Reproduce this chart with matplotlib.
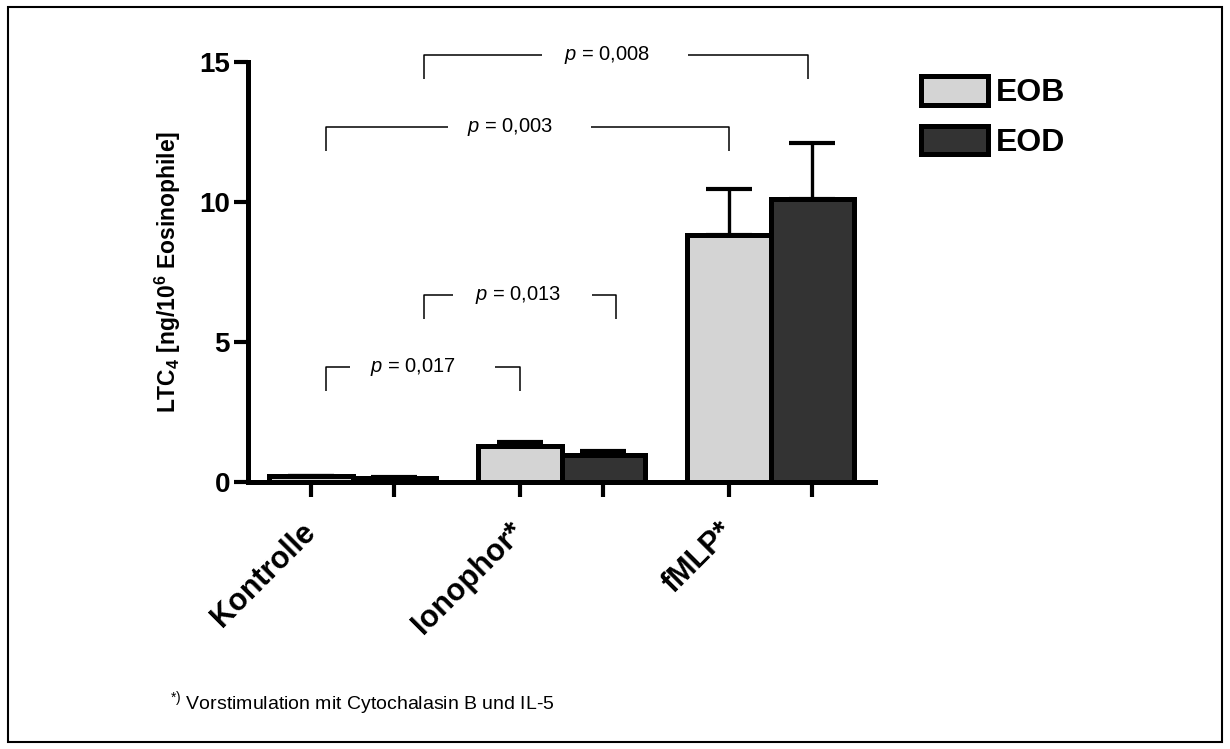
import matplotlib.pyplot as plt
import numpy as np
from matplotlib.patches import Rectangle

plt.rcParams["font.family"] = "Liberation Sans"
plt.rcParams["mathtext.fontset"] = "custom"
plt.rcParams["mathtext.rm"] = "Liberation Sans"
plt.rcParams["mathtext.it"] = "Liberation Sans:italic"
plt.rcParams["mathtext.bf"] = "Liberation Sans:bold"

groups = ["Kontrolle", "Ionophor*", "fMLP*"]
eob_values = [0.2, 1.3, 8.82]
eob_errors = [0.03, 0.12, 1.63]
eod_values = [0.15, 0.95, 10.1]
eod_errors = [0.03, 0.17, 2.0]

# significance brackets: left, right, height, gap start, gap end, text x, label
brackets = [
    (-0.125, 0.80, 4.1, -0.01, 0.684, 0.29, "0,017"),
    (0.34, 1.26, 6.68, 0.483, 1.148, 0.79, "0,013"),
    (-0.125, 1.80, 12.68, 0.455, 1.139, 0.756, "0,003"),
    (0.34, 2.18, 15.25, 0.909, 1.603, 1.22, "0,008"),
]
BRACKET_DROP = 0.86

EOB_COLOR = "#d4d4d4"
EOD_COLOR = "#333333"

fig = plt.figure(figsize=(12.3, 7.49), dpi=100)
ax = fig.add_axes([248 / 1230, 1 - 482 / 749, 627 / 1230, 420 / 749])

x = np.arange(len(groups))
w = 0.4
bar_kw = dict(width=w, edgecolor="black", linewidth=3.6, zorder=3)
err_kw = dict(ecolor="black", elinewidth=2.4, capsize=16.5, capthick=3, zorder=2)

ax.bar(x - w / 2, eob_values, color=EOB_COLOR, label="EOB", **bar_kw)
ax.bar(x + w / 2, eod_values, color=EOD_COLOR, label="EOD", **bar_kw)
ax.errorbar(x - w / 2, eob_values, yerr=[np.zeros(3), eob_errors], fmt="none", **err_kw)
ax.errorbar(x + w / 2, eod_values, yerr=[np.zeros(3), eod_errors], fmt="none", **err_kw)

for left, right, yb, g0, g1, tx, lab in brackets:
    lkw = dict(color="black", linewidth=1.1, clip_on=False, solid_capstyle="butt")
    ax.plot([left, left, g0], [yb - BRACKET_DROP, yb, yb], **lkw)
    ax.plot([g1, right, right], [yb, yb, yb - BRACKET_DROP], **lkw)
    ax.text(tx, yb, f"$p$ = {lab}", ha="center", va="center", fontsize=14.5)

ax.set_xlim(-0.5, 2.5)
ax.set_ylim(0, 15)
ax.set_yticks([0, 5, 10, 15])
ax.set_yticklabels(["0", "5", "10", "15"], fontsize=20, fontweight="bold")

tick_pos = np.sort(np.concatenate([x - w / 2, x + w / 2]))
ax.set_xticks(tick_pos)
tick_labels = []
for g in groups:
    tick_labels += [g, ""]
ax.set_xticklabels(tick_labels, rotation=45, ha="right", va="center",
                   rotation_mode="anchor", fontsize=22, fontweight="bold")

ax.tick_params(axis="both", width=3, length=10, pad=3)
ax.tick_params(axis="x", length=11, pad=22)

for side in ["top", "right"]:
    ax.spines[side].set_visible(False)
for side in ["left", "bottom"]:
    ax.spines[side].set_linewidth(3.6)
    ax.spines[side].set_capstyle("projecting")

ax.set_ylabel(r"LTC$_\mathbf{4}$ [ng/10$^\mathbf{6}$ Eosinophile]",
              fontsize=16.5, fontweight="bold")
ax.yaxis.set_label_coords(-0.104, 0.5)

leg = ax.legend(loc="upper left", bbox_to_anchor=(921 / 1230, 1 - 76 / 749),
                bbox_transform=fig.transFigure, frameon=False,
                handlelength=2.1, handleheight=1.0, handletextpad=0.25,
                labelspacing=0.55, borderpad=0, borderaxespad=0,
                prop=dict(weight="bold", size=23))

fig.text(170 / 1230, 1 - 703 / 749,
         r"$^{*)}$ Vorstimulation mit Cytochalasin B und IL-5",
         fontsize=14, va="center", ha="left")

fig.patches.append(Rectangle((8 / 1230, 7 / 749), 1214 / 1230, 735 / 749,
                             transform=fig.transFigure, fill=False,
                             edgecolor="black", linewidth=1.5))

fig.savefig("out.png", dpi=100)
